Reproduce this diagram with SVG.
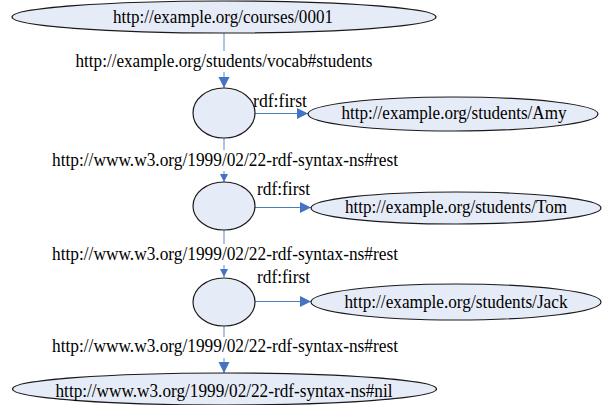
<svg xmlns="http://www.w3.org/2000/svg" width="602" height="405" viewBox="0 0 602 405">
  <defs>
    <marker id="arrow" viewBox="0 0 10 10" markerUnits="userSpaceOnUse" markerWidth="11" markerHeight="12" refX="10" refY="5" orient="auto">
      <path d="M0,0 L10,5 L0,10 z" fill="#4472c4"/>
    </marker>
    <marker id="arrow-sm" viewBox="0 0 10 10" markerUnits="userSpaceOnUse" markerWidth="8" markerHeight="8" refX="10" refY="5" orient="auto">
      <path d="M0,0 L10,5 L0,10 z" fill="#4472c4"/>
    </marker>
    <style>
      .node { fill: #e6ecf7; stroke: #1a1a1a; stroke-width: 1.2; }
      .edge { stroke: #4a7ebb; stroke-width: 1.2; fill: none; }
      .vedge { stroke: #8fb0dc; stroke-width: 1.5; fill: none; }
      text { font-family: "Liberation Serif", "Times New Roman", serif; font-size: 18px; fill: #000; }
      .mid { text-anchor: middle; }
      .bg { fill: #fff; }
    </style>
  </defs>
  <rect width="602" height="405" fill="#fff"/>

  <!-- connectors -->
  <g id="connectors">
    <line class="vedge" x1="224" y1="33" x2="224" y2="88" marker-end="url(#arrow)"/>
    <line class="vedge" x1="224" y1="138" x2="224" y2="182" marker-end="url(#arrow-sm)"/>
    <line class="vedge" x1="224" y1="230" x2="224" y2="277" marker-end="url(#arrow-sm)"/>
    <line class="vedge" x1="224" y1="326" x2="224" y2="373" marker-end="url(#arrow)"/>

    <line class="edge" x1="255" y1="113.5" x2="308" y2="113.5" marker-end="url(#arrow)"/>
    <line class="edge" x1="255" y1="207.5" x2="311" y2="207.5" marker-end="url(#arrow)"/>
    <line class="edge" x1="255" y1="301.5" x2="311" y2="301.5" marker-end="url(#arrow)"/>

    <rect class="bg" x="200" y="51" width="48" height="21"/>
    <text class="mid" x="224" y="67" textLength="297" lengthAdjust="spacingAndGlyphs">http://example.org/students/vocab#students</text>
    <rect class="bg" x="200" y="150" width="48" height="21"/>
    <text class="mid" x="225" y="166" textLength="346" lengthAdjust="spacingAndGlyphs">http://www.w3.org/1999/02/22-rdf-syntax-ns#rest</text>
    <rect class="bg" x="200" y="244" width="48" height="21"/>
    <text class="mid" x="225" y="260" textLength="346" lengthAdjust="spacingAndGlyphs">http://www.w3.org/1999/02/22-rdf-syntax-ns#rest</text>
    <rect class="bg" x="200" y="337" width="48" height="21"/>
    <text class="mid" x="225" y="352" textLength="346" lengthAdjust="spacingAndGlyphs">http://www.w3.org/1999/02/22-rdf-syntax-ns#rest</text>

    <text x="253" y="107" textLength="54" lengthAdjust="spacingAndGlyphs">rdf:first</text>
    <text x="257" y="195" textLength="53" lengthAdjust="spacingAndGlyphs">rdf:first</text>
    <text x="257" y="283" textLength="53" lengthAdjust="spacingAndGlyphs">rdf:first</text>
  </g>

  <g id="course">
    <ellipse class="node" cx="224" cy="17" rx="212" ry="16"/>
    <text class="mid" x="223" y="23" textLength="220" lengthAdjust="spacingAndGlyphs">http://example.org/courses/0001</text>
  </g>

  <g id="list1">
    <ellipse class="node" cx="224" cy="113" rx="31" ry="25"/>
  </g>
  <g id="amy">
    <ellipse class="node" cx="453" cy="114" rx="145" ry="17"/>
    <text class="mid" x="454" y="119" textLength="225" lengthAdjust="spacingAndGlyphs">http://example.org/students/Amy</text>
  </g>

  <g id="list2">
    <ellipse class="node" cx="224" cy="206" rx="31" ry="24"/>
  </g>
  <g id="tom">
    <ellipse class="node" cx="456" cy="208" rx="145" ry="16"/>
    <text class="mid" x="456" y="213" textLength="222" lengthAdjust="spacingAndGlyphs">http://example.org/students/Tom</text>
  </g>

  <g id="list3">
    <ellipse class="node" cx="224" cy="302" rx="31" ry="24"/>
  </g>
  <g id="jack">
    <ellipse class="node" cx="456" cy="302" rx="145" ry="18"/>
    <text class="mid" x="456" y="308" textLength="223" lengthAdjust="spacingAndGlyphs">http://example.org/students/Jack</text>
  </g>

  <g id="nil">
    <ellipse class="node" cx="224.5" cy="389" rx="212" ry="16"/>
    <text class="mid" x="224" y="397" textLength="337" lengthAdjust="spacingAndGlyphs">http://www.w3.org/1999/02/22-rdf-syntax-ns#nil</text>
  </g>
</svg>
